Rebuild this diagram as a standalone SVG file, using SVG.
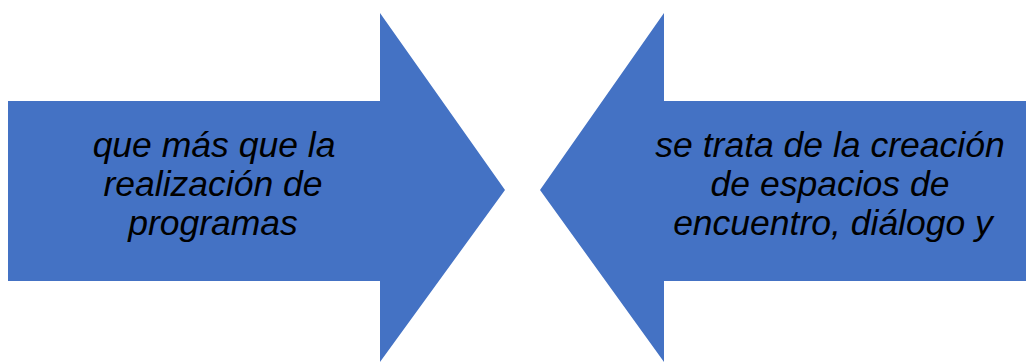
<svg xmlns="http://www.w3.org/2000/svg" width="1026" height="364" viewBox="0 0 1026 364">
<style>
.arrow{fill:#4472C4;}
.t{font-family:"Liberation Sans",Arial,sans-serif;font-style:italic;font-size:35.5px;fill:#000;text-anchor:middle;}
</style>
<rect width="1026" height="364" fill="#fff"/>
<g id="left-arrow">
<polygon class="arrow" points="8,101 380,101 380,13 505,190 380,362 380,281 8,281"/>
<text class="t" x="214" y="157">que más que la</text>
<text class="t" x="213" y="196">realización de</text>
<text class="t" x="213" y="235">programas</text>
</g>
<g id="right-arrow">
<polygon class="arrow" points="1026,101 664,101 664,13 540,190 664,362 664,281 1026,281"/>
<text class="t" x="830" y="157">se trata de la creación</text>
<text class="t" x="830" y="196">de espacios de</text>
<text class="t" x="833" y="235">encuentro, diálogo y</text>
</g>
<g id="connectors"></g>
</svg>
